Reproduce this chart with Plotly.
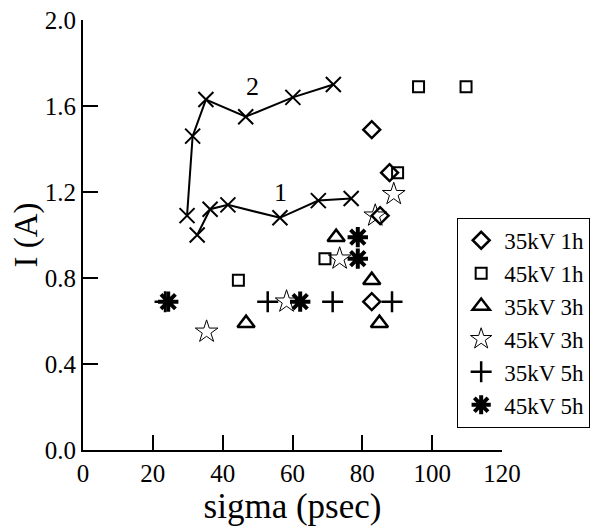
import plotly.graph_objects as go

# Curves
curve1_x = [32.7, 36.4, 41.5, 56.4, 67.4, 76.8]
curve1_y = [1.00, 1.12, 1.14, 1.08, 1.16, 1.17]
curve2_x = [29.8, 31.4, 35.2, 46.6, 60.1, 71.7]
curve2_y = [1.09, 1.46, 1.63, 1.55, 1.64, 1.70]

# Scatter series
d35_1h_x = [82.7, 87.8, 85.1, 82.7]
d35_1h_y = [1.49, 1.29, 1.09, 0.69]
d45_1h_x = [96.1, 109.7, 90.1, 69.3, 44.5]
d45_1h_y = [1.69, 1.69, 1.29, 0.89, 0.79]
d35_3h_x = [72.5, 82.7, 46.7, 84.9]
d35_3h_y = [0.99, 0.79, 0.59, 0.59]
d45_3h_x = [89.0, 83.7, 73.5, 58.3, 35.4]
d45_3h_y = [1.19, 1.09, 0.89, 0.69, 0.55]
d35_5h_x = [23.5, 52.9, 71.5, 88.5]
d35_5h_y = [0.69, 0.69, 0.69, 0.69]
d45_5h_x = [24.4, 62.2, 78.7, 78.7]
d45_5h_y = [0.69, 0.69, 0.99, 0.89]

x_ticks = [0, 20, 40, 60, 80, 100, 120]
y_ticks = [0.0, 0.4, 0.8, 1.2, 1.6, 2.0]

FONT = "Liberation Serif"
fig = go.Figure()

for cx, cy in [(curve1_x, curve1_y), (curve2_x, curve2_y)]:
    fig.add_trace(go.Scatter(x=cx, y=cy, mode="lines+markers", showlegend=False,
                             line=dict(color="black", width=2),
                             marker=dict(symbol="x-thin-open", size=15,
                                         line=dict(color="black", width=2))))

series = [
    ("35kV 1h", d35_1h_x, d35_1h_y, "diamond-open", 13, 2.5),
    ("45kV 1h", d45_1h_x, d45_1h_y, "square-open", 11, 2),
    ("35kV 3h", d35_3h_x, d35_3h_y, "triangle-up-open", 15, 2.5),
    ("45kV 3h", d45_3h_x, d45_3h_y, "star-open", 17, 1),
    ("35kV 5h", d35_5h_x, d35_5h_y, "cross-thin-open", 15, 2.5),
    ("45kV 5h", d45_5h_x, d45_5h_y, "asterisk-open", 17, 4),
]
for name, sx, sy, sym, sz, lw in series:
    fig.add_trace(go.Scatter(x=sx, y=sy, mode="markers", name=name,
                             marker=dict(symbol=sym, size=sz, color="black",
                                         line=dict(color="black", width=lw))))

fig.add_annotation(x=48.6, y=1.69, text="2", showarrow=False,
                   font=dict(family=FONT, size=26, color="black"))
fig.add_annotation(x=56.6, y=1.20, text="1", showarrow=False,
                   font=dict(family=FONT, size=26, color="black"))

axis_common = dict(tickmode="array", ticks="inside", ticklen=15, tickwidth=2,
                   tickcolor="black", showline=True, linewidth=2,
                   linecolor="black", automargin=False, showgrid=False,
                   zeroline=False, mirror=False, ticklabeloverflow="allow",
                   tickfont=dict(family=FONT, size=25))

fig.update_layout(
    width=594, height=518,
    margin=dict(l=75, r=100, t=12, b=76),
    paper_bgcolor="white", plot_bgcolor="white",
    font=dict(family=FONT, size=25, color="black"),
    legend=dict(x=0.893, y=0.54, xanchor="left", yanchor="top",
                bordercolor="black", borderwidth=1, bgcolor="white",
                font=dict(family=FONT, size=23), itemsizing="trace",
                itemwidth=36, tracegroupgap=0),
    xaxis=dict(range=[0, 120], tickvals=x_ticks,
               title=dict(text="sigma (psec)", font=dict(family=FONT, size=35),
                          standoff=0), **axis_common),
    yaxis=dict(range=[0, 2], tickvals=y_ticks, tickformat=".1f",
               title=dict(text="I (A)", font=dict(family=FONT, size=33),
                          standoff=0), **axis_common),
)

fig.write_html("out.html")
